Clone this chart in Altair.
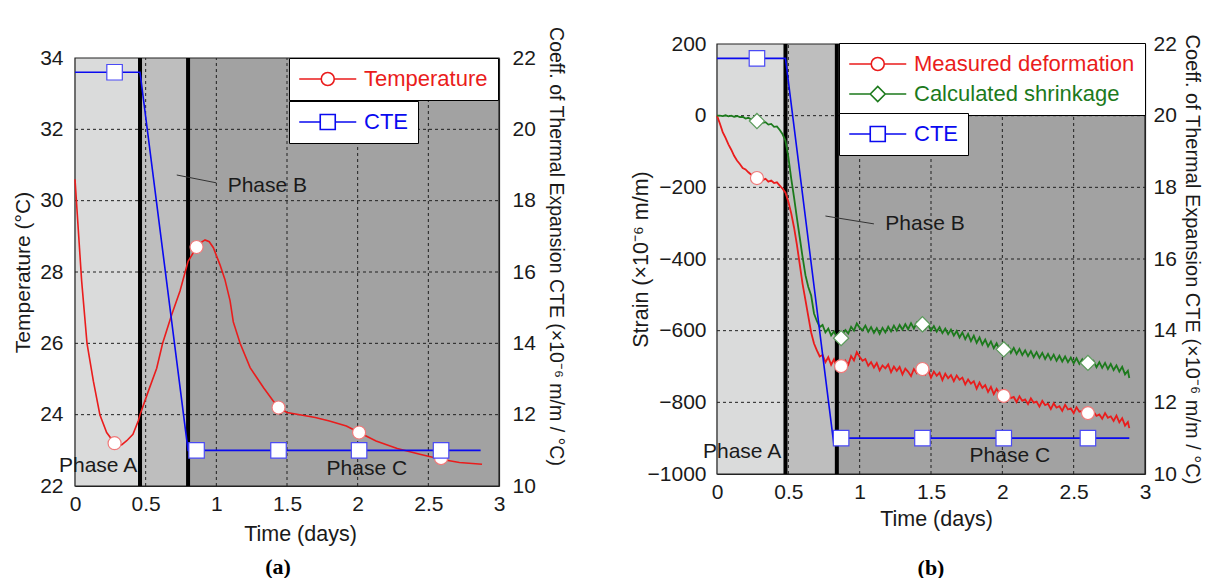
import altair as alt
import pandas as pd

FONT = "Liberation Sans"
SERIF = "Liberation Serif"
INK = "#1a1a1a"
RED = "#ea1c1c"
RED_MK = "#f07a7a"
GREEN = "#1c7a1c"
GREEN_MK = "#5a9a5a"
BLUE = "#0a0af0"
BLUE_MK = "#4a4af5"
BG = ["#dadbdb", "#bebebe", "#a2a2a2"]

x_ticks = [0, 0.5, 1, 1.5, 2, 2.5, 3]
cte_ticks = [10, 12, 14, 16, 18, 20, 22]
phase_names = ["A", "B", "C"]

# ---------------- panel (a) ----------------
a_temp_t = [0.00, 0.047, 0.085, 0.13, 0.176, 0.224, 0.28, 0.33, 0.366, 0.41, 0.448, 0.46,
            0.519, 0.578, 0.62, 0.684, 0.743, 0.80, 0.837, 0.88, 0.92, 0.95, 0.979, 1.026,
            1.06, 1.097, 1.12, 1.168, 1.239, 1.333, 1.40, 1.44, 1.50, 1.59, 1.70, 1.80,
            1.92, 2.01, 2.13, 2.28, 2.44, 2.59, 2.72, 2.88]
a_temp_v = [30.6, 27.75, 26.0, 24.94, 24.0, 23.5, 23.2, 23.15, 23.27, 23.45, 23.83, 24.0,
            24.66, 25.3, 26.0, 26.8, 27.47, 28.3, 28.54, 28.8, 28.9, 28.85, 28.68, 28.2,
            27.8, 27.2, 26.6, 26.0, 25.32, 24.76, 24.4, 24.2, 24.06, 24.0, 23.92, 23.82,
            23.68, 23.5, 23.26, 23.05, 22.89, 22.75, 22.66, 22.61]
a_cte_t = [0.0, 0.46, 0.80, 2.87]
a_cte_v = [21.6, 21.6, 11.0, 11.0]
a_mark_t = [0.28, 0.86, 1.44, 2.01, 2.59]
a_temp_mark = [23.2, 28.7, 24.2, 23.5, 22.78]
a_cte_mark = [21.6, 11.0, 11.0, 11.0, 11.0]
a_bounds = [0.0, 0.46, 0.80, 3.0]
a_vlines = [0.46, 0.80]
a_y_dom = [22, 34]
a_y_ticks = [22, 24, 26, 28, 30, 32, 34]
a_lab_left = (["Phase A"], [0.44], [22.56])
a_lab_right = (["Phase B", "Phase C"], [1.08, 1.78], [30.41, 22.48])
a_leader = ([0.72], [1.00], [30.72], [30.50])

# ---------------- panel (b) ----------------
b_t = [0.00, 0.02, 0.04, 0.06, 0.08, 0.10, 0.12, 0.14, 0.16, 0.18,
       0.20, 0.22, 0.24, 0.26, 0.28, 0.30, 0.32, 0.34, 0.36, 0.38,
       0.40, 0.42, 0.44, 0.46, 0.48, 0.50, 0.52, 0.54, 0.56, 0.58,
       0.60, 0.62, 0.64, 0.66, 0.68, 0.70, 0.72, 0.74, 0.76, 0.78,
       0.80, 0.82, 0.84, 0.86, 0.88, 0.90, 0.92, 0.94, 0.96, 0.98,
       1.00, 1.02, 1.04, 1.06, 1.08, 1.10, 1.12, 1.14, 1.16, 1.18,
       1.20, 1.22, 1.24, 1.26, 1.28, 1.30, 1.32, 1.34, 1.36, 1.38,
       1.40, 1.42, 1.44, 1.46, 1.48, 1.50, 1.52, 1.54, 1.56, 1.58,
       1.60, 1.62, 1.64, 1.66, 1.68, 1.70, 1.72, 1.74, 1.76, 1.78,
       1.80, 1.82, 1.84, 1.86, 1.88, 1.90, 1.92, 1.94, 1.96, 1.98,
       2.00, 2.02, 2.04, 2.06, 2.08, 2.10, 2.12, 2.14, 2.16, 2.18,
       2.20, 2.22, 2.24, 2.26, 2.28, 2.30, 2.32, 2.34, 2.36, 2.38,
       2.40, 2.42, 2.44, 2.46, 2.48, 2.50, 2.52, 2.54, 2.56, 2.58,
       2.60, 2.62, 2.64, 2.66, 2.68, 2.70, 2.72, 2.74, 2.76, 2.78,
       2.80, 2.82, 2.84, 2.86, 2.88, 2.89]
b_meas = [0, -22, -46, -62, -80, -95, -112, -125, -135, -146,
          -150, -158, -165, -169, -174, -175, -180, -176, -184, -181,
          -188, -186, -195, -204, -215, -240, -272, -312, -360, -415,
          -470, -515, -560, -605, -636, -655, -672, -668, -688, -674,
          -695, -680, -702, -697, -706, -684, -695, -671, -683, -660,
          -673, -684, -679, -698, -688, -703, -690, -711, -697, -705,
          -694, -716, -700, -712, -701, -722, -706, -715, -727, -707,
          -718, -702, -707, -722, -709, -731, -714, -726, -717, -738,
          -720, -733, -724, -741, -725, -737, -731, -750, -736, -748,
          -741, -762, -745, -760, -752, -771, -757, -777, -762, -775,
          -782, -790, -774, -788, -785, -799, -783, -796, -792, -805,
          -789, -801, -798, -812, -796, -808, -804, -819, -803, -815,
          -811, -824, -807, -820, -817, -830, -814, -826, -824, -836,
          -830, -841, -826, -838, -834, -846, -830, -843, -839, -852,
          -837, -856, -844, -865, -855, -872]
b_calc = [0, 0, -1, 1, -2, 0, -3, -1, -4, -3,
          -8, -6, -11, -10, -15, -14, -20, -18, -25, -23,
          -31, -30, -40, -52, -70, -115, -175, -228, -285, -340,
          -395, -445, -478, -502, -552, -573, -590, -584, -605, -594,
          -613, -602, -618, -622, -609, -598, -608, -589, -600, -580,
          -592, -599, -586, -603, -590, -606, -593, -609, -592, -605,
          -589, -602, -586, -600, -584, -597, -582, -596, -579, -594,
          -578, -591, -582, -595, -583, -600, -587, -603, -590, -607,
          -594, -610, -597, -614, -601, -619, -605, -624, -609, -629,
          -614, -634, -619, -639, -625, -644, -630, -649, -635, -653,
          -652, -658, -643, -662, -648, -665, -651, -668, -655, -671,
          -657, -674, -660, -676, -662, -679, -665, -681, -667, -684,
          -670, -686, -672, -688, -675, -691, -677, -693, -680, -696,
          -690, -699, -685, -702, -688, -704, -690, -707, -693, -710,
          -697, -714, -701, -722, -712, -732]
b_cte_t = [0.0, 0.48, 0.82, 0.83, 2.89]
b_cte_v = [21.6, 21.6, 10.8, 11.0, 11.0]
b_mark_t = [0.28, 0.87, 1.44, 2.01, 2.60]
b_meas_mark = [-174, -699, -707, -782, -830]
b_calc_mark = [-15, -621, -582, -652, -690]
b_cte_mark = [21.6, 11.0, 11.0, 11.0, 11.0]
b_bounds = [0.0, 0.48, 0.84, 3.0]
b_vlines = [0.48, 0.84]
b_y_dom = [-1000, 200]
b_y_ticks = [-1000, -800, -600, -400, -200, 0, 200]
b_lab_left = (["Phase A"], [0.45], [-939])
b_lab_right = (["Phase B", "Phase C"], [1.18, 1.77], [-302, -950])
b_leader = ([0.76], [1.10], [-280], [-302])

SERIES_A = ["Temperature"]
SERIES_B = ["Measured deformation", "Calculated shrinkage"]

# legend symbol paths (line + marker)
P_CIRCLE = "M-1.075,0L1.125,0M2.425,0L4.625,0M1.125,0A0.65,0.65 0 1,1 2.425,0A0.65,0.65 0 1,1 1.125,0"
P_SQUARE = "M-1.075,0L1.025,0M2.525,0L4.625,0M1.025,-0.75L2.525,-0.75L2.525,0.75L1.025,0.75Z"
P_DIAMOND = "M-1.075,0L1.025,0M2.525,0L4.625,0M1.025,0L1.775,-0.75L2.525,0L1.775,0.75Z"

XS = alt.Scale(domain=[0, 3], nice=False, zero=False)


def make_legend(x, y, symbol, label_color, row_pad=0):
    return alt.Legend(orient="none", legendX=x, legendY=y, title=None,
                      fillColor="white", strokeColor="black", padding=10, cornerRadius=0,
                      labelFont=FONT, labelFontSize=22, labelColor=label_color,
                      labelLimit=500, symbolType=symbol, symbolSize=400,
                      symbolStrokeWidth=1.6, symbolFillColor="white",
                      labelOffset=43, rowPadding=row_pad)


def build_panel(*, width, height, y_dom, y_rng, y_ticks, y_title, y_title_size,
                y_ext, y_lpad, y_tpad, bounds, vlines, lab_left, lab_right, leader,
                line_df, line_dom, line_rng, line_legend, line_width, markers,
                cte_t, cte_v, cte_mark_t, cte_mark_v, cte_legend,
                cte_title_size, cte_lpad, cte_ext, cte_tpad, cte_title_y,
                x_title_x, x_tpad, caption, cap_offset, cap_dx):
    ys = alt.Scale(domain=y_dom, range=y_rng, nice=False, zero=False)
    yc = alt.Scale(domain=[10, 22], range=y_rng, nice=False, zero=False)

    x_kw = dict(values=x_ticks, format="~g", title="Time (days)",
                labelPadding=7, titlePadding=x_tpad)
    if x_title_x is not None:
        x_kw["titleX"] = x_title_x
    x_axis = alt.Axis(**x_kw)
    left_axis = alt.Axis(values=y_ticks, format="d", title=y_title, titleFontSize=y_title_size,
                         labelPadding=y_lpad, titlePadding=y_tpad,
                         minExtent=y_ext, maxExtent=y_ext)
    cte_title = "Coeff. of Thermal Expansion CTE (\u00d710\u207b\u2076 m/m / \u00b0C)"
    cte_axis_kw = dict(orient="right", values=cte_ticks, format="d", title=cte_title,
                       titleFontSize=cte_title_size, labelPadding=cte_lpad,
                       titlePadding=cte_tpad, minExtent=cte_ext, maxExtent=cte_ext)
    if cte_title_y is not None:
        cte_axis_kw["titleY"] = cte_title_y
    cte_axis = alt.Axis(**cte_axis_kw)

    def X(f):
        return alt.X(f, type="quantitative", scale=XS, axis=x_axis, title="Time (days)")

    def Y(f):
        return alt.Y(f, type="quantitative", scale=ys, axis=left_axis, title=y_title)

    def YC(f):
        return alt.Y(f, type="quantitative", scale=yc, axis=cte_axis, title=cte_title)

    bg_df = pd.DataFrame({"x0": bounds[:-1], "x1": bounds[1:], "y0": y_dom[0],
                          "y1": y_dom[1], "phase": phase_names})
    bg = alt.Chart(bg_df).mark_rect().encode(
        x=X("x0"), x2="x1", y=Y("y0"), y2="y1",
        fill=alt.Fill("phase:N", scale=alt.Scale(domain=phase_names, range=BG), legend=None))

    gv_df = pd.DataFrame({"x": x_ticks[1:-1], "y0": y_dom[0], "y1": y_dom[1]})
    grid_v = alt.Chart(gv_df).mark_rule(color="#202020", strokeWidth=1, strokeDash=[3, 3]).encode(
        x=X("x"), y=Y("y0"), y2="y1")
    gh_df = pd.DataFrame({"y": y_ticks[1:-1], "x0": 0.0, "x1": 3.0})
    grid_h = alt.Chart(gh_df).mark_rule(color="#202020", strokeWidth=1, strokeDash=[3, 3]).encode(
        x=X("x0"), x2="x1", y=Y("y"))

    fr_df = pd.DataFrame({"x0": [0.0], "x1": [3.0], "y0": [y_dom[0]], "y1": [y_dom[1]]})
    frame = alt.Chart(fr_df).mark_rect(filled=False, stroke="#222222", strokeWidth=1.2).encode(
        x=X("x0"), x2="x1", y=Y("y0"), y2="y1")

    vl_df = pd.DataFrame({"x": vlines, "y0": y_dom[0], "y1": y_dom[1]})
    vl = alt.Chart(vl_df).mark_rule(color="black", strokeWidth=4).encode(
        x=X("x"), y=Y("y0"), y2="y1")

    ld_df = pd.DataFrame({"t0": leader[0], "t1": leader[1], "v0": leader[2], "v1": leader[3]})
    ld = alt.Chart(ld_df).mark_rule(color="#333333", strokeWidth=1).encode(
        x=X("t0"), x2="t1", y=Y("v0"), y2="v1")

    def labels(spec, align):
        df = pd.DataFrame({"label": spec[0], "t": spec[1], "v": spec[2]})
        return alt.Chart(df).mark_text(align=align, baseline="middle", font=FONT,
                                       fontSize=21, color=INK).encode(
            x=X("t"), y=Y("v"), text="label:N")

    line = alt.Chart(line_df).mark_line(strokeWidth=line_width).encode(
        x=X("t"), y=Y("v"),
        stroke=alt.Stroke("series:N", scale=alt.Scale(domain=line_dom, range=line_rng),
                          legend=line_legend))

    mk_layers = []
    for (mt, mv, shape, size, col) in markers:
        mdf = pd.DataFrame({"t": mt, "v": mv})
        mk_layers.append(alt.Chart(mdf).mark_point(
            shape=shape, size=size, filled=True, fill="white", stroke=col,
            strokeWidth=1.2, opacity=1).encode(x=X("t"), y=Y("v")))

    left = alt.layer(bg, grid_v, grid_h, frame, vl, ld, labels(lab_left, "right"),
                     labels(lab_right, "left"), line, *mk_layers)

    cte_df = pd.DataFrame({"t": cte_t, "v": cte_v, "series": "CTE"})
    cte_line = alt.Chart(cte_df).mark_line(strokeWidth=1.6).encode(
        x=X("t"), y=YC("v"),
        stroke=alt.Stroke("series:N", scale=alt.Scale(domain=["CTE"], range=[BLUE]),
                          legend=cte_legend))
    cm_df = pd.DataFrame({"t": cte_mark_t, "v": cte_mark_v})
    cte_pts = alt.Chart(cm_df).mark_point(shape="square", size=240, filled=True, fill="white",
                                          stroke=BLUE_MK, strokeWidth=1.2, opacity=1).encode(
        x=X("t"), y=YC("v"))
    right = alt.layer(cte_line, cte_pts)

    return alt.layer(left, right).resolve_scale(y="independent", stroke="independent").properties(
        width=width, height=height,
        title=alt.Title(text=caption, orient="bottom", font=SERIF, fontSize=22,
                        fontWeight="bold", color="black", offset=cap_offset,
                        anchor="middle", frame="group", dx=cap_dx))


a_line_df = pd.DataFrame({"t": a_temp_t, "v": a_temp_v, "series": "Temperature"})
panel_a = build_panel(
    width=424, height=442, y_dom=a_y_dom, y_rng=[442, 14], y_ticks=a_y_ticks,
    y_title="Temperature (\u00b0C)", y_title_size=21, y_ext=35, y_lpad=12, y_tpad=7,
    bounds=a_bounds, vlines=a_vlines, lab_left=a_lab_left, lab_right=a_lab_right,
    leader=a_leader, line_df=a_line_df, line_dom=SERIES_A, line_rng=[RED], line_width=1.6,
    line_legend=make_legend(214, 14, P_CIRCLE, RED),
    markers=[(a_mark_t, a_temp_mark, "circle", 170, RED_MK)],
    cte_t=a_cte_t, cte_v=a_cte_v, cte_mark_t=a_mark_t, cte_mark_v=a_cte_mark,
    cte_legend=make_legend(214, 57, P_SQUARE, BLUE),
    cte_title_size=19.5, cte_lpad=13, cte_ext=36, cte_tpad=10, cte_title_y=202,
    x_title_x=225, x_tpad=9, caption="(a)", cap_offset=12, cap_dx=-9)

b_line_df = pd.concat([
    pd.DataFrame({"t": b_t, "v": b_meas, "series": SERIES_B[0]}),
    pd.DataFrame({"t": b_t, "v": b_calc, "series": SERIES_B[1]}),
])
b_sym = {"expr": "datum.value == 'Measured deformation' ? '" + P_CIRCLE + "' : '" + P_DIAMOND + "'"}
b_lcol = {"expr": "datum.value == 'Measured deformation' ? '" + RED + "' : '" + GREEN + "'"}
panel_b = build_panel(
    width=428, height=430, y_dom=b_y_dom, y_rng=[430, 0], y_ticks=b_y_ticks,
    y_title="Strain (\u00d710\u207b\u2076 m/m)", y_title_size=21.5, y_ext=58, y_lpad=11, y_tpad=7,
    bounds=b_bounds, vlines=b_vlines, lab_left=b_lab_left, lab_right=b_lab_right,
    leader=b_leader, line_df=b_line_df, line_dom=SERIES_B, line_rng=[RED, GREEN], line_width=1.8,
    line_legend=make_legend(122, -1, b_sym, b_lcol, row_pad=8),
    markers=[(b_mark_t, b_meas_mark, "circle", 170, RED_MK),
             (b_mark_t, b_calc_mark, "diamond", 230, GREEN_MK)],
    cte_t=b_cte_t, cte_v=b_cte_v, cte_mark_t=b_mark_t, cte_mark_v=b_cte_mark,
    cte_legend=make_legend(122, 69, P_SQUARE, BLUE),
    cte_title_size=20, cte_lpad=8, cte_ext=31, cte_tpad=5, cte_title_y=None,
    x_title_x=219, x_tpad=6, caption="(b)", cap_offset=28, cap_dx=0)

chart = alt.hconcat(panel_a, panel_b, spacing=65).resolve_scale(
    stroke="independent", fill="independent"
).properties(
    padding={"left": 4, "top": 18, "right": 4, "bottom": 0}
).configure_view(stroke=None).configure_axis(
    labelFont=FONT, titleFont=FONT, labelColor=INK, titleColor=INK,
    titleFontWeight="normal", labelFontSize=21, titleFontSize=21.5,
    domainColor="#222222", domainWidth=1.2, ticks=False, tickSize=0, grid=False,
    labelFlush=False, labelOverlap=False
)

chart.save("out.html", embed_options={"renderer": "svg", "actions": False})
